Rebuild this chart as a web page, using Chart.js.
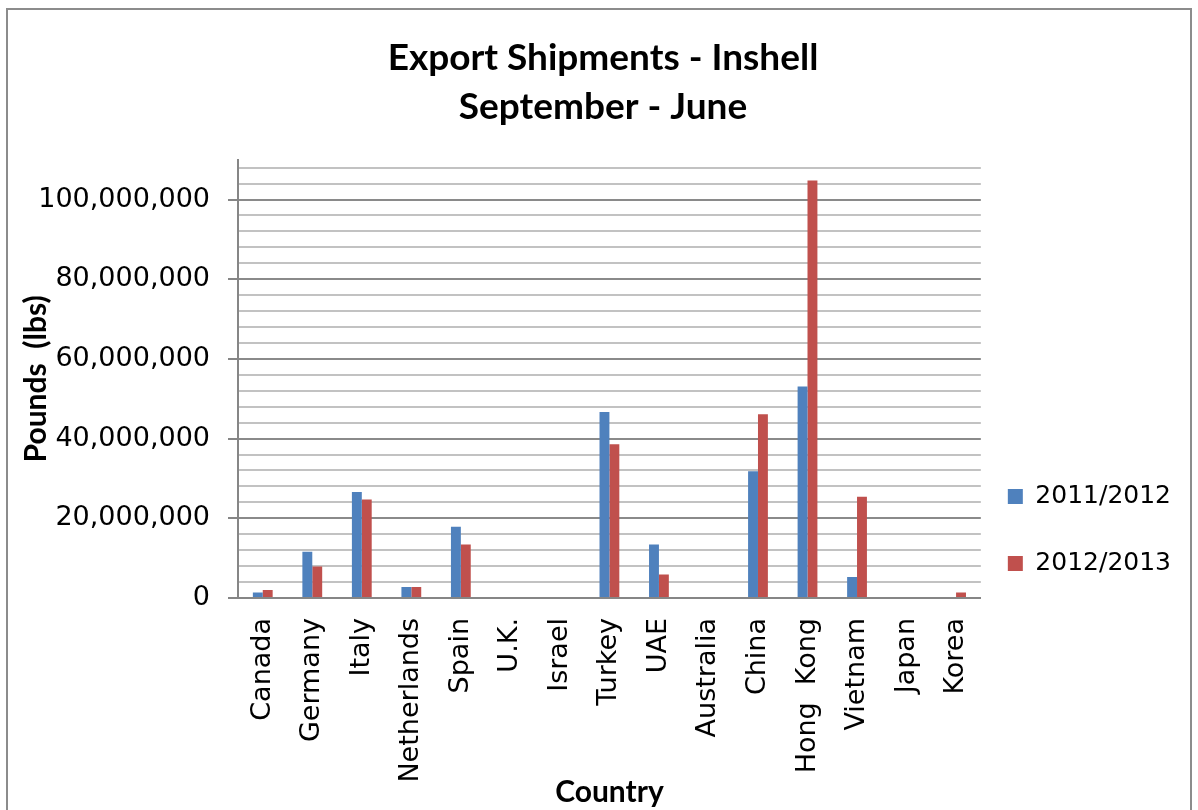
<!DOCTYPE html>
<html>
<head>
<meta charset="utf-8">
<script src="https://cdn.jsdelivr.net/npm/chart.js@4"></script>
<style>
  html, body { margin: 0; padding: 0; background: #fff; }
  #wrap { position: relative; width: 1198px; height: 810px; }
  #frame { position: absolute; left: 6px; top: 8px; width: 1186px; height: 810px; border: 2px solid #8c8c8c; box-sizing: border-box; pointer-events: none; }
</style>
</head>
<body>
<div id="wrap">
  <canvas id="chart"></canvas>
  <div id="frame"></div>
</div>
<script>
// data
const countries = ["Canada", "Germany", "Italy", "Netherlands", "Spain", "U.K.", "Israel", "Turkey", "UAE", "Australia", "China", "Hong  Kong", "Vietnam", "Japan", "Korea"]
const season2011 = [1400000, 11600000, 26600000, 2750000, 17900000, 0, 0, 46700000, 13400000, 0, 31800000, 53100000, 5300000, 0, 0]
const season2012 = [2000000, 7900000, 24700000, 2750000, 13400000, 0, 0, 38600000, 5900000, 0, 46100000, 104800000, 25400000, 0, 1400000]
const seriesNames = ["2011/2012", "2012/2013"]
const titleLines = ["Export Shipments - Inshell", "September - June"]

// y axis: labelled major ticks, minor grid every 4M, axis top at 110M
const majorTicks = [0, 20000000, 40000000, 60000000, 80000000, 100000000]
const MINOR = 4000000
const Y_MAX = 110000000

const gridValues = []
for (let v = 0; v < Y_MAX; v += MINOR) gridValues.push(v)

const isMajor = (v) => majorTicks.includes(v)

// nudge the legend left so it sits like the Excel one
const legendShift = {
  id: "legendShift",
  afterLayout(chart) {
    chart.legend.left = chart.chartArea.right - 15
  },
}

const ctx = document.getElementById("chart").getContext("2d")
new Chart(ctx, {
  type: "bar",
  data: {
    labels: countries,
    datasets: [
      { label: seriesNames[0], data: season2011, backgroundColor: "#4f81bd" },
      { label: seriesNames[1], data: season2012, backgroundColor: "#c0504d" },
    ],
  },
  plugins: [legendShift],
  options: {
    responsive: true,
    maintainAspectRatio: false,
    animation: false,
    devicePixelRatio: 1,
    layout: { padding: { left: 10, right: 2, top: 0, bottom: 0 } },
    datasets: { bar: { categoryPercentage: 0.4, barPercentage: 1.0 } },
    plugins: {
      title: {
        display: true,
        text: titleLines,
        color: "#000",
        font: { family: "Lato", size: 37, weight: "bold", lineHeight: 1.32 },
        padding: { top: 34, bottom: 28 },
      },
      legend: {
        position: "right",
        align: "start",
        title: { display: true, text: " ", padding: { top: 430, bottom: 0 }, font: { size: 10 } },
        labels: {
          color: "#000",
          font: { family: "DejaVu Sans", size: 25 },
          boxWidth: 15,
          boxHeight: 15,
          padding: 42,
        },
      },
      tooltip: { enabled: false },
    },
    scales: {
      x: {
        grid: { display: false },
        border: { display: true, color: "#868686", width: 2 },
        ticks: {
          color: "#000",
          font: { family: "DejaVu Sans", size: 27 },
          minRotation: 90,
          maxRotation: 90,
          padding: 12,
          autoSkip: false,
        },
        title: {
          display: true,
          text: "Country",
          color: "#000",
          font: { family: "Lato", size: 30, weight: "bold" },
          padding: 0,
        },
        afterFit: (scale) => { scale.height = 212 },
      },
      y: {
        min: 0,
        max: Y_MAX,
        border: { display: true, color: "#868686", width: 2 },
        grid: {
          drawTicks: true,
          tickLength: 10,
          lineWidth: 2,
          tickWidth: 2,
          color: (c) => {
            const v = c.tick.value
            if (v === 0) return "rgba(0,0,0,0)"
            return isMajor(v) ? "#8a8a8a" : "#c2c2c2"
          },
          tickColor: (c) => (isMajor(c.tick.value) ? "#868686" : "rgba(0,0,0,0)"),
        },
        afterBuildTicks: (scale) => {
          scale.ticks = gridValues.map((v) => ({ value: v }))
        },
        ticks: {
          autoSkip: false,
          color: "#000",
          font: { family: "DejaVu Sans", size: 27 },
          padding: 18,
          callback: (v) => (isMajor(v) ? v.toLocaleString("en-US") : ""),
        },
        title: {
          display: true,
          text: "Pounds  (lbs)",
          color: "#000",
          font: { family: "Lato", size: 30, weight: "bold" },
          padding: { top: 8, bottom: 0 },
        },
        afterFit: (scale) => { scale.width = 228 },
      },
    },
  },
})
</script>
</body>
</html>
